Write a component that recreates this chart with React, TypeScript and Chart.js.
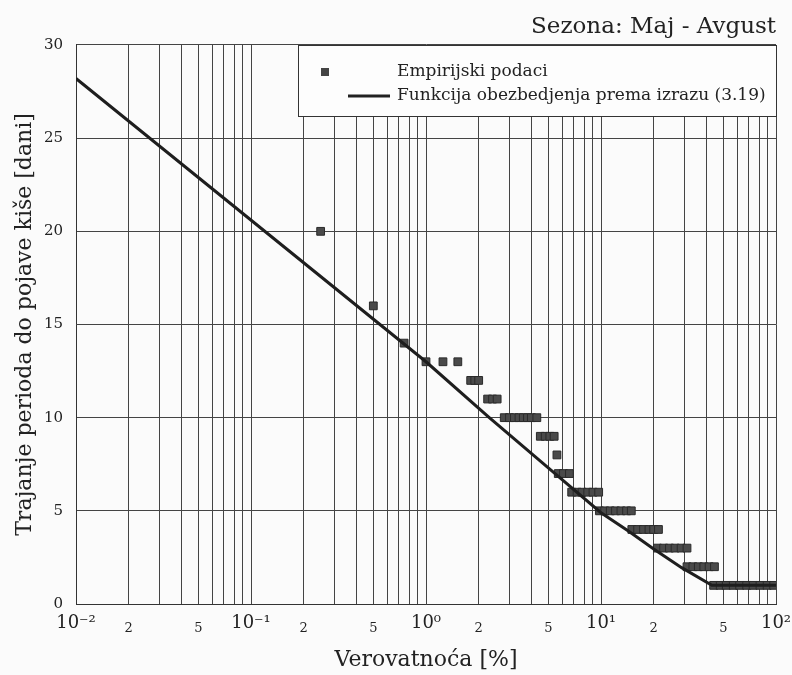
import React, { useEffect, useRef } from "react";
import { Chart, registerables } from "chart.js";

Chart.register(...registerables);

// ---- data ----
const TITLE = "Sezona: Maj - Avgust";
const X_TITLE = "Verovatnoća [%]";
const Y_TITLE = "Trajanje perioda do pojave kiše [dani]";
const EMP_LABEL = "Empirijski podaci";
const FIT_LABEL = "Funkcija obezbedjenja prema izrazu (3.19)";

// empirical points: days level and the probabilities [%] observed at that level
const EMP_LEVELS = [20, 16, 14, 13, 12, 11, 10, 9, 8, 7, 6, 5, 4, 3, 2, 1];
const EMP_PROBS = [
  [0.25],
  [0.5],
  [0.75],
  [1.0, 1.25, 1.52],
  [1.8, 1.9, 2.0],
  [2.25, 2.4, 2.55],
  [2.8, 3.0, 3.2, 3.4, 3.6, 3.8, 4.0, 4.3],
  [4.5, 4.8, 5.1, 5.4],
  [5.6],
  [5.7, 6.1, 6.6],
  [6.8, 7.3, 7.8, 8.4, 9.0, 9.7],
  [9.8, 10.5, 11.3, 12.1, 13.0, 14.0, 14.9],
  [15, 16.2, 17.5, 18.8, 20, 21.3],
  [21, 22.8, 24.6, 26.5, 28.7, 31],
  [31, 33.5, 36, 38.7, 41.5, 44.5],
  [44, 48, 52, 57, 62, 68, 74, 81, 89, 97],
];

// fitted function
const FIT_PROB = [0.01, 1, 2.3, 5, 10, 14.4, 20, 28.9, 43, 100];
const FIT_DAYS = [28.2, 13, 10, 7.3, 4.9, 3.9, 2.95, 1.95, 1.0, 1.0];

// axis ticks
const X_DECADES = [0.01, 0.1, 1, 10];
const X_MULTS = [1, 2, 3, 4, 5, 6, 7, 8, 9];
const X_END = 100;
const X_MAJOR_LABELS: Record<string, string> = {
  "0.01": "10\u207B\u00B2",
  "0.1": "10\u207B\u00B9",
  "1": "10\u2070",
  "10": "10\u00B9",
  "100": "10\u00B2",
};
const X_MINOR_LABELED = [2, 5];
const Y_MIN = 0;
const Y_MAX = 30;
const Y_STEP = 5;

const FONT = "'DejaVu Serif', serif";
const INK = "#222";

export default function App() {
  const ref = useRef<HTMLCanvasElement | null>(null);

  useEffect(() => {
    document.body.style.margin = "0";
    const canvas = ref.current!;
    const xTicks: number[] = [];
    X_DECADES.forEach((d) => X_MULTS.forEach((m) => xTicks.push(+(d * m).toPrecision(3))));
    xTicks.push(X_END);

    const empPts: { x: number; y: number }[] = [];
    EMP_LEVELS.forEach((lvl, i) => EMP_PROBS[i].forEach((p) => empPts.push({ x: p, y: lvl })));
    const fitPts = FIT_PROB.map((p, i) => ({ x: p, y: FIT_DAYS[i] }));

    const bgPlugin = {
      id: "bg",
      beforeDraw(chart: any) {
        const c = chart.ctx;
        c.save();
        c.fillStyle = "#fbfbfb";
        c.fillRect(0, 0, chart.width, chart.height);
        c.restore();
      },
    };

    const legendPlugin = {
      id: "boxLegend",
      afterDraw(chart: any) {
        const c = chart.ctx;
        const a = chart.chartArea;
        const x1 = Math.round(a.right - 478);
        const y1 = Math.round(a.top);
        const w = Math.round(a.right) - x1;
        const h = 71;
        c.save();
        c.fillStyle = "#fdfdfd";
        c.fillRect(x1, y1, w, h);
        c.strokeStyle = "#333";
        c.lineWidth = 1;
        c.strokeRect(x1 + 0.5, y1 + 0.5, w, h);
        // marker
        const r1 = y1 + 27;
        const r2 = y1 + 51;
        c.fillStyle = "#444";
        c.fillRect(x1 + 23, r1 - 4, 8, 8);
        // line sample
        c.strokeStyle = "#222";
        c.beginPath();
        c.lineWidth = 3;
        c.moveTo(x1 + 50, r2);
        c.lineTo(x1 + 92, r2);
        c.stroke();
        c.fillStyle = INK;
        c.font = `17px ${FONT}`;
        c.textBaseline = "middle";
        c.textAlign = "left";
        const ds = chart.data.datasets;
        c.fillText(ds[0].label, x1 + 99, r1);
        c.fillText(ds[1].label, x1 + 99, r2);
        c.restore();
      },
    };

    const chart = new Chart(canvas, {
      type: "scatter",
      data: {
        datasets: [
          {
            label: EMP_LABEL,
            data: empPts,
            pointStyle: "rect",
            pointRadius: 5.5,
            pointHoverRadius: 5.5,
            backgroundColor: "#4a4a4a",
            borderColor: "#2a2a2a",
            borderWidth: 1,
            showLine: false,
            order: 2,
          },
          {
            label: FIT_LABEL,
            data: fitPts,
            showLine: true,
            borderColor: "#1e1e1e",
            borderWidth: 3,
            pointRadius: 0,
            fill: false,
            tension: 0,
            order: 1,
          },
        ],
      },
      options: {
        animation: false,
        responsive: false,
        layout: { padding: { top: 7.4, right: 16, left: 0, bottom: 0 } },
        plugins: {
          legend: { display: false },
          tooltip: { enabled: false },
          title: {
            display: true,
            text: TITLE,
            align: "end",
            color: INK,
            font: { family: FONT, size: 23, weight: "normal" },
            padding: { top: 6, bottom: 4 },
          },
        },
        scales: {
          x: {
            type: "logarithmic",
            min: 0.01,
            max: 100,
            afterBuildTicks(scale: any) {
              scale.ticks = xTicks.map((v) => ({ value: v }));
            },
            afterFit(scale: any) {
              scale.height = 71;
              scale.paddingRight = 0;
              scale.paddingLeft = 0;
            },
            grid: { color: "#444", lineWidth: 1, drawTicks: false },
            border: { color: "#333", width: 1 },
            ticks: {
              autoSkip: false,
              maxRotation: 0,
              padding: 19,
              crossAlign: "far",
              color: INK,
              font: (ctx: any) => {
                const v = ctx.tick ? ctx.tick.value : 1;
                const major = X_MAJOR_LABELS[String(v)] !== undefined;
                return { family: FONT, size: major ? 18 : 13 };
              },
              callback: (v: any) => {
                const key = String(+(+v).toPrecision(3));
                if (X_MAJOR_LABELS[key] !== undefined) return X_MAJOR_LABELS[key];
                const sig = Math.round(+v / Math.pow(10, Math.floor(Math.log10(+v) + 1e-9)));
                return X_MINOR_LABELED.includes(sig) ? String(sig) : "";
              },
            },
            title: {
              display: true,
              text: X_TITLE,
              color: INK,
              font: { family: FONT, size: 22 },
              padding: { top: 0, bottom: 2 },
            },
          },
          y: {
            min: Y_MIN,
            max: Y_MAX,
            afterFit(scale: any) {
              scale.width = 76;
            },
            grid: { color: "#444", lineWidth: 1, drawTicks: false },
            border: { color: "#333", width: 1 },
            ticks: {
              stepSize: Y_STEP,
              padding: 13,
              color: INK,
              font: { family: FONT, size: 15 },
            },
            title: {
              display: true,
              text: Y_TITLE,
              color: INK,
              font: { family: FONT, size: 22 },
              padding: { top: 12, bottom: 0 },
            },
          },
        },
      },
      plugins: [bgPlugin, legendPlugin],
    } as any);

    return () => chart.destroy();
  }, []);

  return <canvas ref={ref} width={792} height={675} style={{ display: "block" }} />;
}
